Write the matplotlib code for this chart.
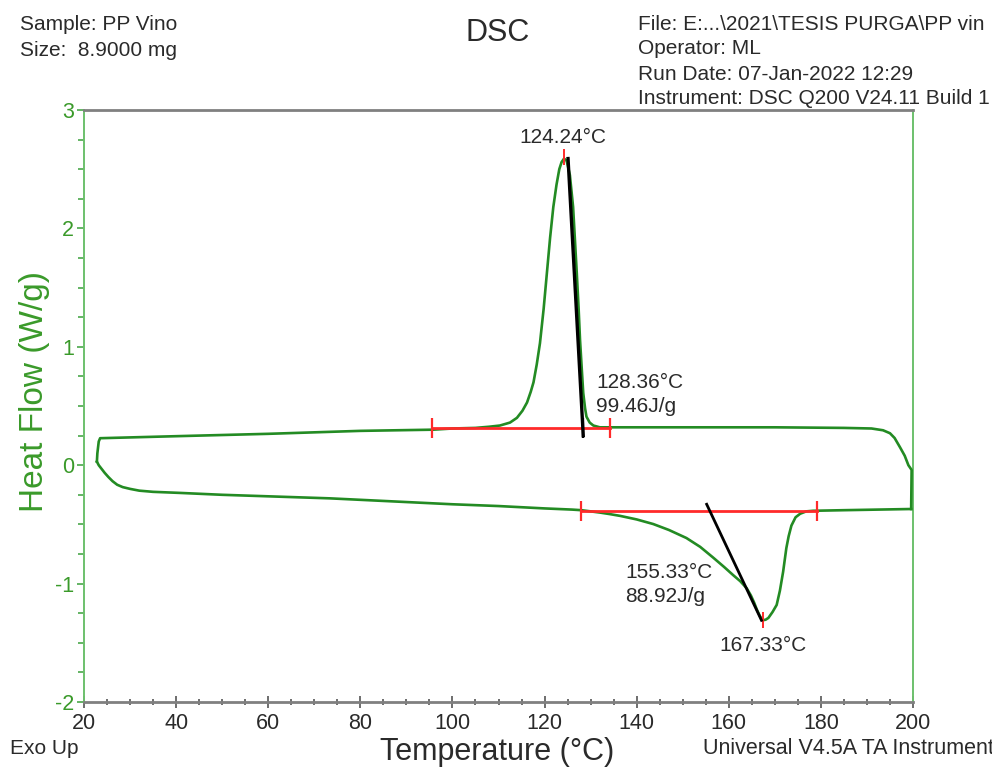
import numpy as np
import matplotlib
matplotlib.use("Agg")
import matplotlib.pyplot as plt
from matplotlib.ticker import MultipleLocator

plt.rcParams['font.family'] = ['Liberation Sans', 'DejaVu Sans']
plt.rcParams['axes.unicode_minus'] = False

# enfriamiento (curva superior), de 200 hacia 20 °C
t_enfr = [199.6, 199.7, 199.0, 198.2, 197.2, 196.0, 195.0, 193.5, 191.0, 185.0,
          170.0, 150.0, 135.0, 132.0, 130.6, 129.8, 129.1, 128.8, 128.4, 128.1,
          127.7, 127.4, 127.0, 126.6, 126.2, 125.5, 124.8, 124.24, 123.7, 123.2,
          122.6, 121.9, 121.2, 120.5, 119.8, 119.0, 118.3, 117.6, 117.0, 116.2,
          115.2, 114.0, 112.5, 110.3, 108.0, 105.0, 100.0, 95.8, 80.0, 60.0,
          40.0, 23.5, 23.2, 22.9, 22.8]
hf_enfr = [-0.37, -0.04, 0.00, 0.08, 0.15, 0.23, 0.27, 0.295, 0.31, 0.315,
           0.32, 0.32, 0.32, 0.32, 0.335, 0.36, 0.41, 0.48, 0.61, 0.80,
           1.06, 1.32, 1.62, 1.90, 2.18, 2.45, 2.57, 2.59, 2.56, 2.50,
           2.37, 2.18, 1.92, 1.62, 1.32, 1.03, 0.85, 0.70, 0.62, 0.53,
           0.46, 0.40, 0.36, 0.335, 0.325, 0.315, 0.31, 0.30, 0.29, 0.265,
           0.245, 0.228, 0.20, 0.10, 0.03]

# calentamiento (curva inferior), de 20 hacia 200 °C
t_cal = [22.8, 23.2, 23.8, 24.5, 25.3, 26.2, 27.2, 28.4, 30.0, 32.0,
         35.0, 40.8, 50.0, 73.4, 100.0, 110.0, 120.0, 126.0, 128.0, 130.0,
         132.0, 134.0, 136.4, 140.0, 143.6, 147.0, 150.8, 153.8, 156.6, 159.0,
         161.0, 162.5, 163.9, 164.8, 165.5, 166.1, 166.7, 167.33, 168.0, 168.6,
         169.5, 170.4, 171.1, 171.8, 172.5, 173.0, 173.6, 174.5, 175.5, 176.8,
         178.3, 185.0, 199.6]
hf_cal = [0.03, 0.0, -0.03, -0.065, -0.10, -0.135, -0.165, -0.185, -0.20, -0.215,
          -0.225, -0.234, -0.25, -0.28, -0.33, -0.345, -0.365, -0.375, -0.38, -0.39,
          -0.40, -0.412, -0.428, -0.458, -0.497, -0.547, -0.615, -0.69, -0.78, -0.86,
          -0.93, -0.98, -1.04, -1.10, -1.16, -1.22, -1.27, -1.31, -1.305, -1.29,
          -1.24, -1.18, -1.06, -0.90, -0.70, -0.60, -0.51, -0.44, -0.41, -0.39,
          -0.385, -0.38, -0.37]

# integraciones
base_cris = [95.6, 134.2]
y_base_cris = [0.31, 0.31]
tan_cris_x = [125.1, 128.4]
tan_cris_y = [2.59, 0.25]
pico_cris = 124.24
onset_cris = 128.36
dh_cris = 99.46

base_fus = [128.0, 179.1]
y_base_fus = [-0.386, -0.386]
tan_fus_x = [155.2, 167.1]
tan_fus_y = [-0.33, -1.31]
pico_fus = 167.33
onset_fus = 155.33
dh_fus = 88.92

verde = '#238b23'
rojo = '#ff2a2a'
texto = '#2a2a2a'

fig = plt.figure(figsize=(9.92, 7.67), dpi=100)
ax = fig.add_axes([84/992, 1-702/767, (913-84)/992, (702-110)/767])

ax.plot(t_enfr, hf_enfr, color=verde, lw=1.9, zorder=3)
ax.plot(t_cal, hf_cal, color=verde, lw=1.9, zorder=3)

# pico de cristalizacion
ax.plot(base_cris, y_base_cris, color=rojo, lw=2, marker='|', ms=14, mew=1.6, zorder=4)
ax.plot(tan_cris_x, tan_cris_y, color='black', lw=2.4, zorder=5)
ax.plot([onset_cris], [y_base_cris[0]], marker='|', color='black', ms=14, mew=1.6, zorder=5)
ax.plot([pico_cris], [2.60], marker='|', color=rojo, ms=12, mew=1.4, zorder=4)
ax.text(pico_cris - 0.2, 2.77, f'{pico_cris:.2f}°C', ha='center', va='center', fontsize=15, color=texto)
ax.text(131.2, 0.70, f'{onset_cris:.2f}°C', ha='left', va='center', fontsize=15, color=texto)
ax.text(131.2, 0.50, f'{dh_cris:.2f}J/g', ha='left', va='center', fontsize=15, color=texto)

# pico de fusion
ax.plot(base_fus, y_base_fus, color=rojo, lw=2, marker='|', ms=14, mew=1.6, zorder=4)
ax.plot(tan_fus_x, tan_fus_y, color='black', lw=2, zorder=5)
ax.plot([pico_fus], [-1.31], marker='|', color=rojo, ms=12, mew=1.4, zorder=4)
ax.text(137.5, -0.91, f'{onset_fus:.2f}°C', ha='left', va='center', fontsize=15, color=texto)
ax.text(137.5, -1.11, f'{dh_fus:.2f}J/g', ha='left', va='center', fontsize=15, color=texto)
ax.text(pico_fus, -1.52, f'{pico_fus:.2f}°C', ha='center', va='center', fontsize=15, color=texto)

ax.set_xlim(20, 200)
ax.set_ylim(-2, 3)
ax.xaxis.set_major_locator(MultipleLocator(20))
ax.xaxis.set_minor_locator(MultipleLocator(5))
ax.yaxis.set_major_locator(MultipleLocator(1))
ax.yaxis.set_minor_locator(MultipleLocator(0.25))

ax.tick_params(axis='x', which='major', direction='inout', length=8, width=1.2,
               color='#555555', labelsize=15.5, labelcolor=texto, pad=4)
ax.tick_params(axis='x', which='minor', direction='inout', length=4, width=1.2, color='#555555')
ax.tick_params(axis='y', which='major', direction='out', length=5, width=1.2,
               color='#4aa84a', labelsize=15.5, labelcolor='#3a9a2a', pad=2)
ax.tick_params(axis='y', which='minor', direction='out', length=4, width=1.2, color='#4aa84a')

for lado in ['top', 'bottom']:
    ax.spines[lado].set_color('#808080')
    ax.spines[lado].set_linewidth(2.0)
for lado in ['left', 'right']:
    ax.spines[lado].set_color('#6cc06c')
    ax.spines[lado].set_linewidth(1.4)

def px(x, y):
    return x / 992, 1 - y / 767

fig.text(*px(20, 25), 'Sample: PP Vino', ha='left', va='center', fontsize=15, color=texto)
fig.text(*px(20, 50), 'Size:  8.9000 mg', ha='left', va='center', fontsize=15, color=texto)
fig.text(*px(498, 33), 'DSC', ha='center', va='center', fontsize=22, color=texto)
fig.text(*px(638, 25), 'File: E:...\\2021\\TESIS PURGA\\PP vin', ha='left', va='center', fontsize=15, color=texto)
fig.text(*px(638, 49), 'Operator: ML', ha='left', va='center', fontsize=15, color=texto)
fig.text(*px(638, 74), 'Run Date: 07-Jan-2022 12:29', ha='left', va='center', fontsize=15, color=texto)
fig.text(*px(638, 98), 'Instrument: DSC Q200 V24.11 Build 1', ha='left', va='center', fontsize=15, color=texto)

fig.text(*px(35, 392), 'Heat Flow (W/g)', rotation=90, ha='center', va='center', fontsize=24, color='#3a9a2a')
fig.text(*px(497, 752), 'Temperature (°C)', ha='center', va='center', fontsize=22, color=texto)
fig.text(*px(10, 748), 'Exo Up', ha='left', va='center', fontsize=15, color=texto)
fig.text(*px(703, 748), 'Universal V4.5A TA Instrument', ha='left', va='center', fontsize=15.5, color=texto)

fig.savefig('out.png', dpi=100)
